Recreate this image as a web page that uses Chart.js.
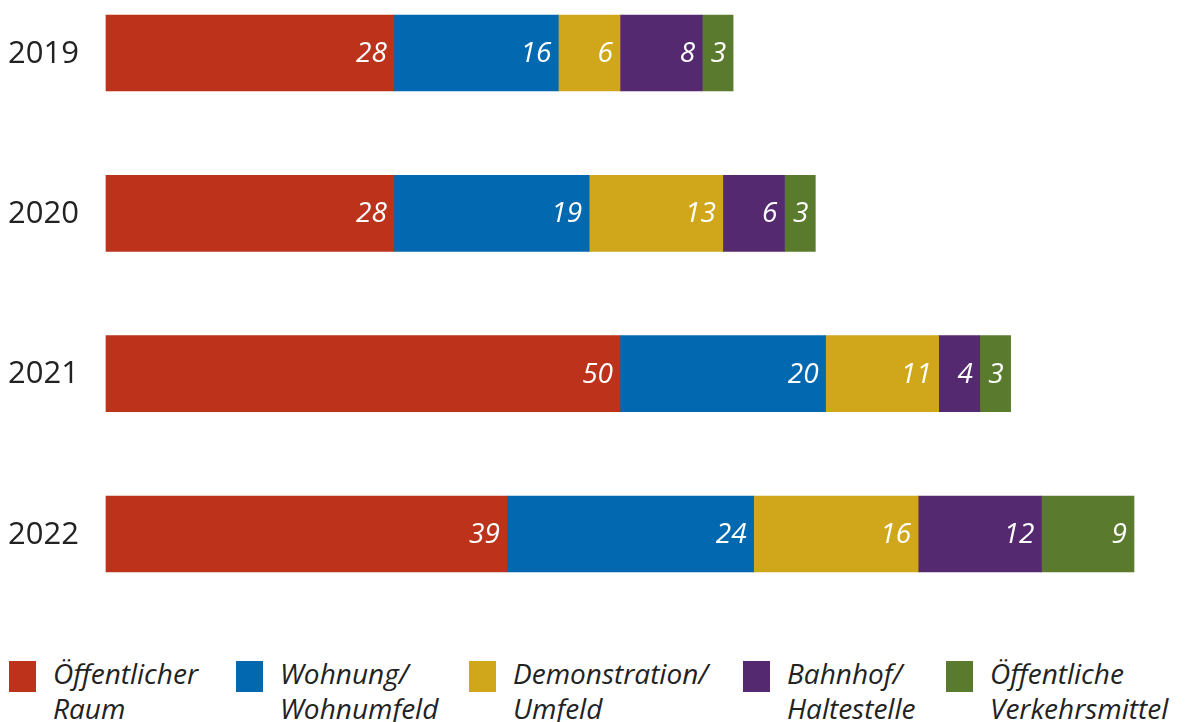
<!DOCTYPE html>
<html lang="de">
<head>
<meta charset="UTF-8">
<title>Orte</title>
<script src="https://cdn.jsdelivr.net/npm/chart.js"></script>
<style>
  body { margin: 0; background: #fff; font-family: "Open Sans", sans-serif; }
  .wrap { position: relative; width: 1186px; height: 722px; overflow: hidden; }
  .chart-box { position: absolute; left: 0; top: 0; width: 1186px; height: 610px; }
  .legend { position: absolute; top: 661px; left: 0; width: 1186px; height: 61px; }
  .item { position: absolute; top: 0; }
  .item .sq { position: absolute; left: 0; top: 0; width: 27px; height: 31px; }
  .item .txt { position: absolute; left: 44px; top: -5px; font-style: italic; font-size: 28px; line-height: 35px; color: #222; white-space: nowrap; }
</style>
</head>
<body>
<div class="wrap">
  <div class="chart-box"><canvas id="orte"></canvas></div>
  <div class="legend" id="legend"></div>
</div>

<script>
// Jahre und Werte
const years = ['2019', '2020', '2021', '2022'];
const categories = [
  ['Öffentlicher', 'Raum'],
  ['Wohnung/', 'Wohnumfeld'],
  ['Demonstration/', 'Umfeld'],
  ['Bahnhof/', 'Haltestelle'],
  ['Öffentliche', 'Verkehrsmittel']
];
const oeffentlicherRaum = [28, 28, 50, 39];
const wohnung = [16, 19, 20, 24];
const demonstration = [6, 13, 11, 16];
const bahnhof = [8, 6, 4, 12];
const verkehrsmittel = [3, 3, 3, 9];
const colors = ['#bd321b', '#0269b0', '#d0a71a', '#54296f', '#5a7b2e'];
const legendX = [9, 236, 469, 743, 946];

const series = [oeffentlicherRaum, wohnung, demonstration, bahnhof, verkehrsmittel];

// Zahlen in die Balken schreiben
const valueLabels = {
  id: 'valueLabels',
  afterDatasetsDraw(chart) {
    const ctx = chart.ctx;
    ctx.save();
    ctx.font = 'italic 28px "Open Sans"';
    ctx.fillStyle = '#fff';
    ctx.textAlign = 'right';
    ctx.textBaseline = 'middle';
    chart.data.datasets.forEach((ds, i) => {
      chart.getDatasetMeta(i).data.forEach((bar, j) => {
        ctx.fillText(ds.data[j], bar.x - 7, bar.y + 1);
      });
    });
    ctx.restore();
  }
};

// Jahreszahlen links
const yearLabels = {
  id: 'yearLabels',
  afterDraw(chart) {
    const ctx = chart.ctx;
    const yScale = chart.scales.y;
    ctx.save();
    ctx.font = '31px "Open Sans"';
    ctx.fillStyle = '#222';
    ctx.textAlign = 'left';
    ctx.textBaseline = 'middle';
    years.forEach((y, i) => {
      ctx.fillText(y, 8, yScale.getPixelForValue(i) + 1);
    });
    ctx.restore();
  }
};

const ctx = document.getElementById('orte').getContext('2d');
new Chart(ctx, {
  type: 'bar',
  data: {
    labels: years,
    datasets: series.map((d, i) => ({
      label: categories[i].join(' '),
      data: d,
      backgroundColor: colors[i],
      borderWidth: 0,
      barThickness: 76,
      clip: false
    }))
  },
  options: {
    indexAxis: 'y',
    responsive: true,
    maintainAspectRatio: false,
    animation: false,
    layout: { padding: { left: 106, right: 52, top: 53, bottom: 610 - 534 } },
    plugins: { legend: { display: false }, tooltip: { enabled: false } },
    scales: {
      x: { stacked: true, min: 0, max: 100, display: false },
      y: { stacked: true, offset: false, display: false }
    }
  },
  plugins: [valueLabels, yearLabels]
});

// Legende
const legend = document.getElementById('legend');
categories.forEach((c, i) => {
  const item = document.createElement('div');
  item.className = 'item';
  item.style.left = legendX[i] + 'px';
  item.innerHTML = '<div class="sq" style="background:' + colors[i] + '"></div>' +
    '<div class="txt">' + c[0] + '<br>' + c[1] + '</div>';
  legend.appendChild(item);
});
</script>
</body>
</html>
